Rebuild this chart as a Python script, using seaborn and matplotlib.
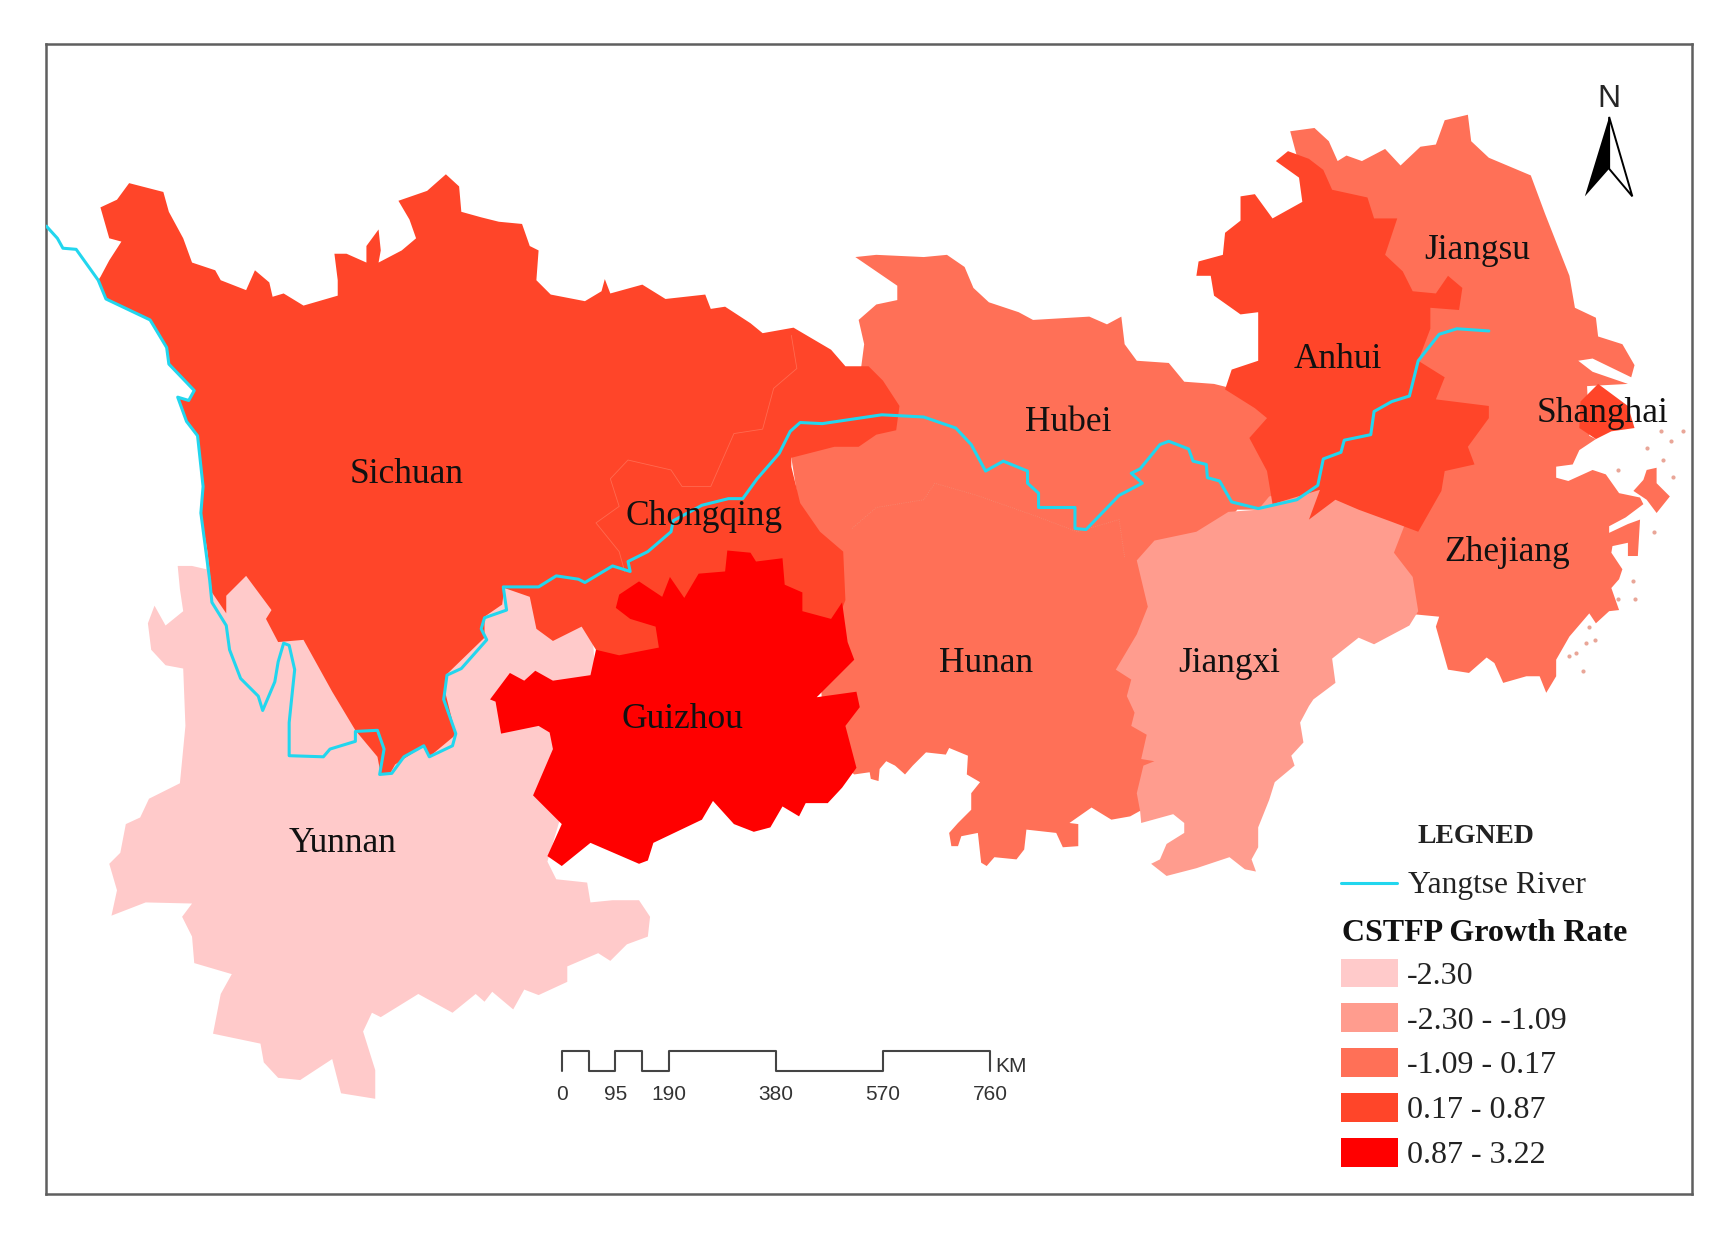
"""Yangtze River Economic Belt map: CSTFP growth rate by province."""

import matplotlib.pyplot as plt
import numpy as np
import seaborn as sns
from matplotlib.patches import Rectangle

sns.set_theme(style="white")
plt.rcParams["font.family"] = ["Liberation Serif", "DejaVu Serif"]

# ---------------------------------------------------------------------------
# Data: outlines are read off the picture, in map units
# ---------------------------------------------------------------------------

class_labels = ["-2.30", "-2.30 - -1.09", "-1.09 - 0.17", "0.17 - 0.87", "0.87 - 3.22"]
class_colors = ["#FFCACA", "#FF9C8E", "#FF7057", "#FF4529", "#FF0000"]

hubei_hunan = [
    (775, 233), (794, 231), (837, 233), (858, 231), (874, 242), (882, 261), (896, 274), (923, 283),
    (936, 290), (987, 287), (1003, 294), (1016, 287), (1019, 312), (1030, 327), (1059, 329), (1073, 346),
    (1100, 348), (1120, 353), (1160, 379), (1160, 400), (1165, 440), (1165, 462), (1121, 462), (1113, 472),
    (1084, 490), (1060, 500), (1060, 560), (1050, 650), (1045, 735), (1033, 735), (1024, 740), (1007, 743),
    (989, 732), (969, 746), (977, 747), (977, 767), (963, 768), (957, 755), (930, 752), (928, 770),
    (921, 779), (901, 777), (894, 785), (889, 782), (886, 755), (871, 758), (868, 767), (862, 767),
    (860, 755), (868, 746), (880, 734), (880, 719), (888, 709), (876, 702), (877, 685), (860, 678),
    (857, 684), (839, 682), (827, 694), (820, 702), (811, 694), (803, 690), (797, 697), (796, 708),
    (789, 706), (788, 700), (774, 702), (760, 690), (745, 640), (740, 560), (717, 415), (780, 335),
    (783, 312), (778, 290), (794, 276), (813, 272), (813, 259), (794, 246),
]
sichuan_chongqing = [
    (91, 251), (99, 236), (110, 219), (99, 216), (91, 188), (106, 181), (117, 166), (148, 174),
    (153, 192), (166, 216), (174, 238), (195, 245), (200, 254), (223, 263), (231, 245), (244, 256),
    (247, 269), (257, 266), (275, 277), (306, 268), (306, 254), (303, 230), (314, 230), (332, 238),
    (332, 223), (343, 208), (345, 227), (343, 238), (364, 227), (377, 216), (371, 199), (361, 182),
    (387, 173), (404, 158), (416, 169), (418, 192), (436, 197), (452, 201), (473, 203), (480, 223),
    (488, 227), (486, 254), (499, 267), (530, 273), (545, 264), (548, 253), (553, 266), (582, 258),
    (603, 271), (639, 267), (644, 280), (657, 278), (680, 293), (691, 302), (719, 297), (753, 317),
    (766, 332), (787, 332), (800, 345), (815, 368), (812, 390), (794, 394), (778, 405), (756, 405),
    (717, 415), (717, 423), (725, 456), (743, 482), (764, 500), (766, 544), (756, 570), (640, 600),
    (610, 600), (545, 600), (540, 589), (527, 568), (501, 581), (486, 570), (480, 541), (457, 533),
    (455, 548), (439, 559), (439, 578), (405, 611), (403, 626), (413, 666), (389, 686), (384, 676),
    (358, 693), (353, 702), (345, 702), (342, 686), (322, 662), (301, 627), (275, 580), (252, 582),
    (241, 561), (246, 553), (223, 522), (205, 540), (205, 556), (192, 537), (188, 500), (182, 465),
    (184, 441), (179, 395), (169, 382), (161, 360), (171, 363), (176, 354), (153, 330), (151, 315),
    (136, 290), (96, 271), (89, 254),
]
yunnan = [
    (187, 497), (187, 516), (174, 513), (161, 513), (163, 534), (166, 554), (150, 567), (140, 549),
    (134, 565), (137, 589), (150, 603), (166, 606), (168, 658), (163, 710), (135, 724), (127, 741),
    (114, 747), (109, 773), (99, 783), (106, 807), (101, 830), (132, 818), (174, 819), (165, 831),
    (174, 849), (176, 873), (210, 883), (200, 901), (193, 937), (236, 946), (239, 963), (252, 977),
    (272, 979), (301, 960), (309, 991), (340, 996), (340, 970), (329, 935), (337, 918), (345, 922),
    (379, 901), (410, 918), (431, 901), (439, 908), (446, 899), (465, 915), (475, 897), (488, 902),
    (514, 890), (514, 876), (542, 864), (553, 871), (568, 856), (587, 849), (589, 831), (579, 816),
    (555, 816), (535, 818), (532, 800), (504, 797), (496, 781), (520, 700), (540, 620), (537, 577),
    (525, 565), (500, 530), (456, 530), (300, 500),
]
guizhou = [
    (444, 634), (462, 610), (475, 617), (485, 608), (501, 617), (535, 612), (540, 589), (561, 594),
    (597, 587), (594, 568), (571, 561), (558, 551), (561, 539), (579, 527), (600, 541), (607, 523),
    (620, 542), (633, 520), (657, 518), (659, 499), (680, 501), (685, 509), (709, 506), (711, 530),
    (727, 537), (727, 554), (753, 561), (763, 546), (768, 582), (774, 598), (740, 632), (776, 627),
    (779, 641), (766, 658), (776, 696), (763, 714), (750, 728), (730, 728), (724, 740), (709, 731),
    (698, 750), (683, 754), (665, 747), (646, 726), (636, 743), (592, 764), (587, 780), (579, 783),
    (535, 764), (509, 785), (496, 776), (509, 747), (483, 721), (501, 679), (498, 664), (488, 658),
    (454, 665), (449, 636),
]
jiangxi = [
    (1030, 508), (1046, 490), (1084, 482), (1113, 464), (1140, 462), (1150, 450), (1196, 440), (1231, 455),
    (1275, 470), (1263, 501), (1280, 523), (1285, 554), (1277, 567), (1245, 584),
    (1231, 578), (1207, 597), (1210, 619), (1190, 634), (1186, 640), (1178, 655), (1181, 673), (1170, 685),
    (1173, 694), (1155, 709), (1150, 725), (1140, 750), (1140, 768), (1134, 779), (1138, 790), (1128, 788),
    (1114, 777), (1084, 787), (1057, 794), (1043, 783), (1051, 779), (1057, 765), (1073, 755), (1073, 746),
    (1063, 738), (1034, 746), (1033, 735), (1030, 719), (1036, 694), (1046, 690), (1034, 688), (1039, 666),
    (1025, 658), (1028, 646), (1021, 631), (1025, 616), (1011, 607), (1030, 575), (1040, 550),
]
jiangsu_zhejiang = [
    (1169, 119), (1191, 116), (1204, 128), (1212, 146), (1220, 141), (1234, 146), (1255, 135), (1269, 150),
    (1287, 133), (1301, 131), (1309, 109), (1330, 104), (1333, 128), (1349, 143), (1387, 159), (1400, 194),
    (1422, 250), (1427, 279), (1446, 288), (1448, 305), (1470, 312), (1481, 331), (1478, 342), (1443, 325),
    (1430, 327), (1443, 337), (1475, 348), (1438, 350), (1440, 395), (1446, 398), (1431, 408), (1425, 421),
    (1410, 423), (1410, 433), (1421, 436), (1443, 426), (1455, 430), (1467, 447), (1486, 451), (1489, 457),
    (1473, 469), (1458, 477), (1458, 483), (1475, 475), (1486, 471), (1484, 504), (1475, 504), (1475, 492),
    (1461, 495), (1460, 501), (1470, 516), (1467, 525), (1460, 533), (1467, 553), (1458, 554), (1446, 565),
    (1440, 556), (1422, 577), (1410, 598), (1410, 613), (1401, 628), (1395, 613), (1383, 613), (1362, 619),
    (1354, 601), (1347, 596), (1331, 610), (1312, 607), (1301, 568), (1304, 559), (1283, 557), (1260, 500),
    (1250, 300), (1220, 200), (1180, 160),
]
anhui = [
    (1156, 146), (1167, 137), (1186, 144), (1199, 154), (1207, 172), (1239, 179), (1245, 198), (1266, 198),
    (1255, 231), (1271, 246), (1280, 264), (1301, 266), (1312, 250), (1325, 261), (1322, 281), (1296, 279),
    (1296, 298), (1285, 327), (1309, 342), (1301, 362), (1349, 368), (1349, 379), (1330, 405), (1336, 421),
    (1309, 427), (1306, 445), (1285, 482), (1261, 473), (1231, 462), (1210, 453), (1186, 471), (1196, 444),
    (1153, 457), (1148, 427), (1132, 397), (1148, 379), (1137, 370), (1110, 353), (1116, 335), (1140, 327),
    (1140, 283), (1124, 285), (1100, 268), (1097, 250), (1084, 250), (1086, 237), (1108, 231), (1110, 211),
    (1124, 200), (1124, 178), (1137, 176), (1153, 198), (1180, 183), (1177, 161),
]
shanghai = [
    (1432, 364), (1448, 348), (1475, 368), (1481, 388), (1460, 391), (1446, 398), (1431, 388),
]
zhoushan_islands = [
    (1492, 426), (1501, 424), (1501, 438), (1513, 450), (1501, 465), (1492, 453), (1480, 445), (1489, 435),
]

# province outline -> legend class
map_shapes = [
    (hubei_hunan, 2), (yunnan, 0), (sichuan_chongqing, 3), (guizhou, 4),
    (jiangsu_zhejiang, 2), (jiangxi, 1), (anhui, 3), (shanghai, 3), (zhoushan_islands, 2),
]

# faint inner boundaries between provinces of the same class
chongqing_border = [
    (717, 304), (722, 334), (701, 352), (691, 389), (665, 393), (644, 441), (618, 441), (608, 426),
    (569, 417), (553, 434), (561, 459), (540, 474), (561, 500), (566, 518),
]
hunan_border = [
    (772, 479), (794, 460), (837, 453), (847, 438), (885, 449), (939, 468), (976, 482), (1014, 471), (1019, 505),
]

river_x = [
    42, 52, 57, 69, 89, 96, 136, 151, 153, 176, 171, 161, 169, 179, 184, 182, 190, 192, 205, 208,
    218, 234, 238, 249, 252, 257, 262, 267, 265, 262, 262, 293, 299, 322, 322, 342, 348, 344, 355, 366,
    384, 389, 410, 413, 402, 405, 418, 441, 436, 439, 459, 456, 488, 504, 524, 530, 555, 571, 569, 587,
    608, 610, 636, 660, 673, 686, 706, 716, 725, 745, 799, 837, 866, 880, 893, 909, 931, 931, 941, 941,
    974, 974, 984, 1014, 1035, 1025, 1033, 1051, 1059, 1077, 1081, 1093, 1094, 1105, 1116, 1140, 1175, 1194, 1199, 1215,
    1218, 1242, 1245, 1261, 1277, 1285, 1304, 1320, 1349,
]
river_y = [
    205, 216, 225, 226, 254, 271, 290, 315, 330, 354, 363, 360, 382, 395, 441, 465, 526, 546, 567, 589,
    615, 631, 644, 618, 600, 583, 585, 607, 626, 655, 685, 686, 679, 672, 663, 662, 679, 702, 701, 686,
    676, 686, 676, 665, 634, 612, 606, 580, 570, 560, 553, 532, 532, 522, 525, 528, 513, 518, 509, 500,
    482, 472, 458, 452, 452, 434, 411, 391, 383, 384, 376, 378, 388, 403, 427, 418, 427, 438, 447, 460,
    460, 479, 480, 449, 438, 429, 425, 403, 400, 407, 418, 421, 433, 436, 455, 461, 453, 440, 416, 410,
    399, 394, 373, 364, 359, 327, 303, 298, 300,
]

# small offshore islands and rocks east of Zhejiang
island_x = [1507, 1514, 1492, 1525, 1499, 1480, 1481, 1440, 1437, 1434, 1422, 1466, 1466, 1516, 1505, 1445, 1428]
island_y = [417, 400, 406, 391, 482, 527, 543, 568, 583, 608, 595, 543, 426, 432, 391, 580, 592]

province_names = ["Sichuan", "Chongqing", "Guizhou", "Yunnan", "Hubei", "Hunan", "Jiangxi", "Anhui", "Jiangsu", "Zhejiang", "Shanghai"]
label_x = [368, 638, 618, 310, 968, 893, 1114, 1212, 1338, 1366, 1452]
label_y = [430, 468, 652, 765, 383, 601, 601, 326, 227, 501, 375]

scale_km = [0, 47.5, 95, 142.5, 190, 380, 570, 760]
scale_labels = [0, 95, 190, 380, 570, 760]

# ---------------------------------------------------------------------------
# Figure
# ---------------------------------------------------------------------------

WIDTH, HEIGHT = 1567.5, 1124
fig = plt.figure(figsize=(17.3, 12.4), dpi=100)
ax = fig.add_axes([42 / WIDTH, 1 - 1082 / HEIGHT, (1533 - 42) / WIDTH, (1082 - 40) / HEIGHT])

for outline, cls in map_shapes:
    xs, ys = zip(*outline)
    ax.fill(xs, ys, color=class_colors[cls], lw=0, zorder=1)

ax.plot(*zip(*chongqing_border), color="#FF6A50", lw=0.6, zorder=2)
ax.plot(*zip(*hunan_border), color="#F58A72", lw=0.6, ls=":", zorder=2)
ax.scatter(island_x, island_y, s=9, color="#E9A698", lw=0, zorder=2)

sns.lineplot(x=river_x, y=river_y, sort=False, estimator=None, color="#22D6EE", lw=2.2, ax=ax, zorder=3)

for name, x, y in zip(province_names, label_x, label_y):
    ax.text(x, y, name, fontsize=25.5, color="#111111", ha="center", va="center", zorder=5)

# north arrow
ax.text(1458, 90, "N", fontsize=23, family="Liberation Sans", ha="center", va="center")
ax.fill([1458, 1436, 1458], [106, 178, 153], color="black", lw=0)
ax.fill([1458, 1479, 1458], [106, 178, 153], facecolor="white", edgecolor="black", lw=1.4)

# scale bar
bar_x = 509 + np.array(scale_km) * (897 - 509) / 760
bar_levels = np.array([953, 971] * 4)[:len(scale_km) - 1]
step_x = np.concatenate([[bar_x[0]], np.repeat(bar_x[:-1], 2)[1:], [bar_x[-1], bar_x[-1]]])
step_y = np.concatenate([[971], np.repeat(bar_levels, 2), [971]])
sns.lineplot(x=step_x, y=step_y, sort=False, estimator=None, color="#444444", lw=1.5, ax=ax)
for km in scale_labels:
    ax.text(509 + km * (897 - 509) / 760, 992, str(km), fontsize=15, family="Liberation Sans",
            color="#333333", ha="center", va="center")
ax.text(902, 967, "KM", fontsize=15, family="Liberation Sans", color="#333333", ha="left", va="center")

# legend, laid out by hand like the map template it came from
ax.text(1337, 758, "LEGNED", fontsize=20, fontweight="bold", color="#222222", ha="center", va="center")
ax.plot([1215, 1266], [800, 800], color="#22D6EE", lw=2.2)
ax.text(1276, 803, "Yangtse River", fontsize=22.7, color="#222222", ha="left", va="center")
ax.text(1216, 846, "CSTFP Growth Rate", fontsize=23, fontweight="bold", color="#111111", ha="left", va="center")
for i, (label, color) in enumerate(zip(class_labels, class_colors)):
    yc = 882 + i * 40.6
    ax.add_patch(Rectangle((1215, yc - 13), 52, 26, facecolor=color, edgecolor="none"))
    ax.text(1275, yc + 3, label, fontsize=23, color="#222222", ha="left", va="center")

ax.set_xlim(42, 1533)
ax.set_ylim(1082, 40)
ax.set_xticks([])
ax.set_yticks([])
for spine in ax.spines.values():
    spine.set_visible(True)
    spine.set_color("#5f5f5f")
    spine.set_linewidth(1.8)

fig.savefig("out.png", dpi=100)
